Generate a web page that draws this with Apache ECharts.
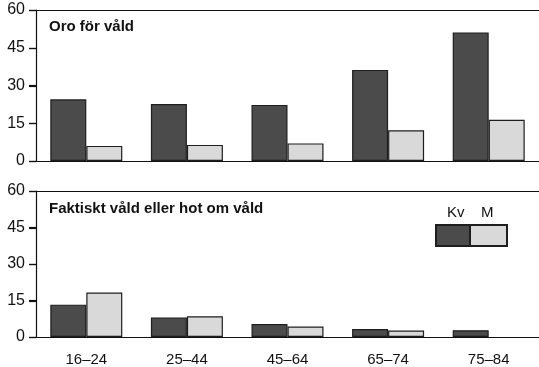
<!DOCTYPE html>
<html>
<head>
<meta charset="utf-8">
<script src="https://cdn.jsdelivr.net/npm/echarts@6/dist/echarts.min.js"></script>
<style>html,body{margin:0;padding:0;background:#fff}#c{width:539px;height:367px}</style>
</head>
<body>
<div id="c"></div>
<script>
const categories = ['16–24', '25–44', '45–64', '65–74', '75–84'];
const yTicks = [0, 15, 30, 45, 60];
const oroKv = [24.5, 22.6, 22.3, 36.2, 51.1];
const oroM = [6.0, 6.4, 7.0, 12.2, 16.4];
const faktKv = [13.3, 8.0, 5.3, 3.3, 2.8];
const faktM = [18.3, 8.5, 4.3, 2.7, null];
const seriesNames = ['Kv', 'M'];
const panelTitles = ['Oro för våld', 'Faktiskt våld eller hot om våld'];

const DARK = '#4b4b4b', LIGHT = '#d9d9d9', EDGE = '#1e1e1e', INK = '#111';
const FONT = '"Liberation Sans", Arial, Helvetica, sans-serif';
const TICK_LEN = 7;

const chart = echarts.init(document.getElementById('c'), null, {renderer: 'canvas'});

const grids = [
  {left: 36, right: -3, top: 10, height: 151},
  {left: 36, right: -3, top: 191, height: 151}
];

function xAxes(gi, showLabels) {
  return [
    {
      type: 'category', gridIndex: gi, data: categories, position: 'bottom',
      axisLine: {show: true, lineStyle: {color: INK, width: 1.2}},
      axisTick: {show: false},
      axisLabel: {show: showLabels, color: INK, fontSize: 15, fontFamily: FONT, margin: 15}
    },
    {
      type: 'category', gridIndex: gi, data: categories, position: 'top',
      axisLine: {show: true, lineStyle: {color: INK, width: 1.2}},
      axisTick: {show: false}, axisLabel: {show: false}
    }
  ];
}
function yAxis(gi) {
  return {
    type: 'value', gridIndex: gi, min: yTicks[0], max: yTicks[yTicks.length - 1],
    interval: yTicks[1] - yTicks[0],
    axisLine: {show: true, lineStyle: {color: INK, width: 1.2}},
    axisTick: {show: true, length: TICK_LEN, lineStyle: {color: INK, width: 1.2}},
    axisLabel: {color: INK, fontSize: 16, fontFamily: FONT, margin: 11},
    splitLine: {show: false}
  };
}
function bar(name, data, xi, yi, color) {
  return {
    name: name, type: 'bar', xAxisIndex: xi, yAxisIndex: yi, data: data,
    barWidth: 36, barGap: '0%',
    itemStyle: {color: color, borderColor: EDGE, borderWidth: 1.2},
    emphasis: {disabled: true}
  };
}

const legendTexts = [
  {id: 'lt0', type: 'text', left: 447, top: 205, style: {text: seriesNames[0], font: '15px ' + FONT, fill: INK}},
  {id: 'lt1', type: 'text', left: 481, top: 205, style: {text: seriesNames[1], font: '15px ' + FONT, fill: INK}}
];

chart.setOption({
  animation: false,
  textStyle: {fontFamily: FONT},
  title: [
    {text: panelTitles[0], left: 49, top: 19, padding: 0,
     textStyle: {fontSize: 15, fontWeight: 'bold', color: INK, fontFamily: FONT}},
    {text: panelTitles[1], left: 49, top: 201, padding: 0,
     textStyle: {fontSize: 15, fontWeight: 'bold', color: INK, fontFamily: FONT}}
  ],
  grid: grids,
  xAxis: [...xAxes(0, false), ...xAxes(1, true)],
  yAxis: [yAxis(0), yAxis(1)],
  legend: {
    data: seriesNames, left: 435, top: 224, padding: 0,
    itemWidth: 37, itemHeight: 21, itemGap: -5, icon: 'rect',
    formatter: function () { return ''; },
    selectedMode: false
  },
  graphic: legendTexts,
  series: [
    bar(seriesNames[0], oroKv, 0, 0, DARK),
    bar(seriesNames[1], oroM, 0, 0, LIGHT),
    bar(seriesNames[0], faktKv, 2, 1, DARK),
    bar(seriesNames[1], faktM, 2, 1, LIGHT)
  ]
});

// Outward tick marks on the value axes, positioned through the axes' own scales.
const tickMarks = [];
grids.forEach(function (g, gi) {
  yTicks.forEach(function (v, ti) {
    const y = Math.round(chart.convertToPixel({yAxisIndex: gi}, v)) + 0.5;
    tickMarks.push({
      id: 'tk' + gi + '_' + ti, type: 'line', z: 10,
      shape: {x1: g.left - TICK_LEN, y1: y, x2: g.left, y2: y},
      style: {stroke: INK, lineWidth: 1.2}
    });
  });
});
chart.setOption({graphic: legendTexts.concat(tickMarks)});
</script>
</body>
</html>
